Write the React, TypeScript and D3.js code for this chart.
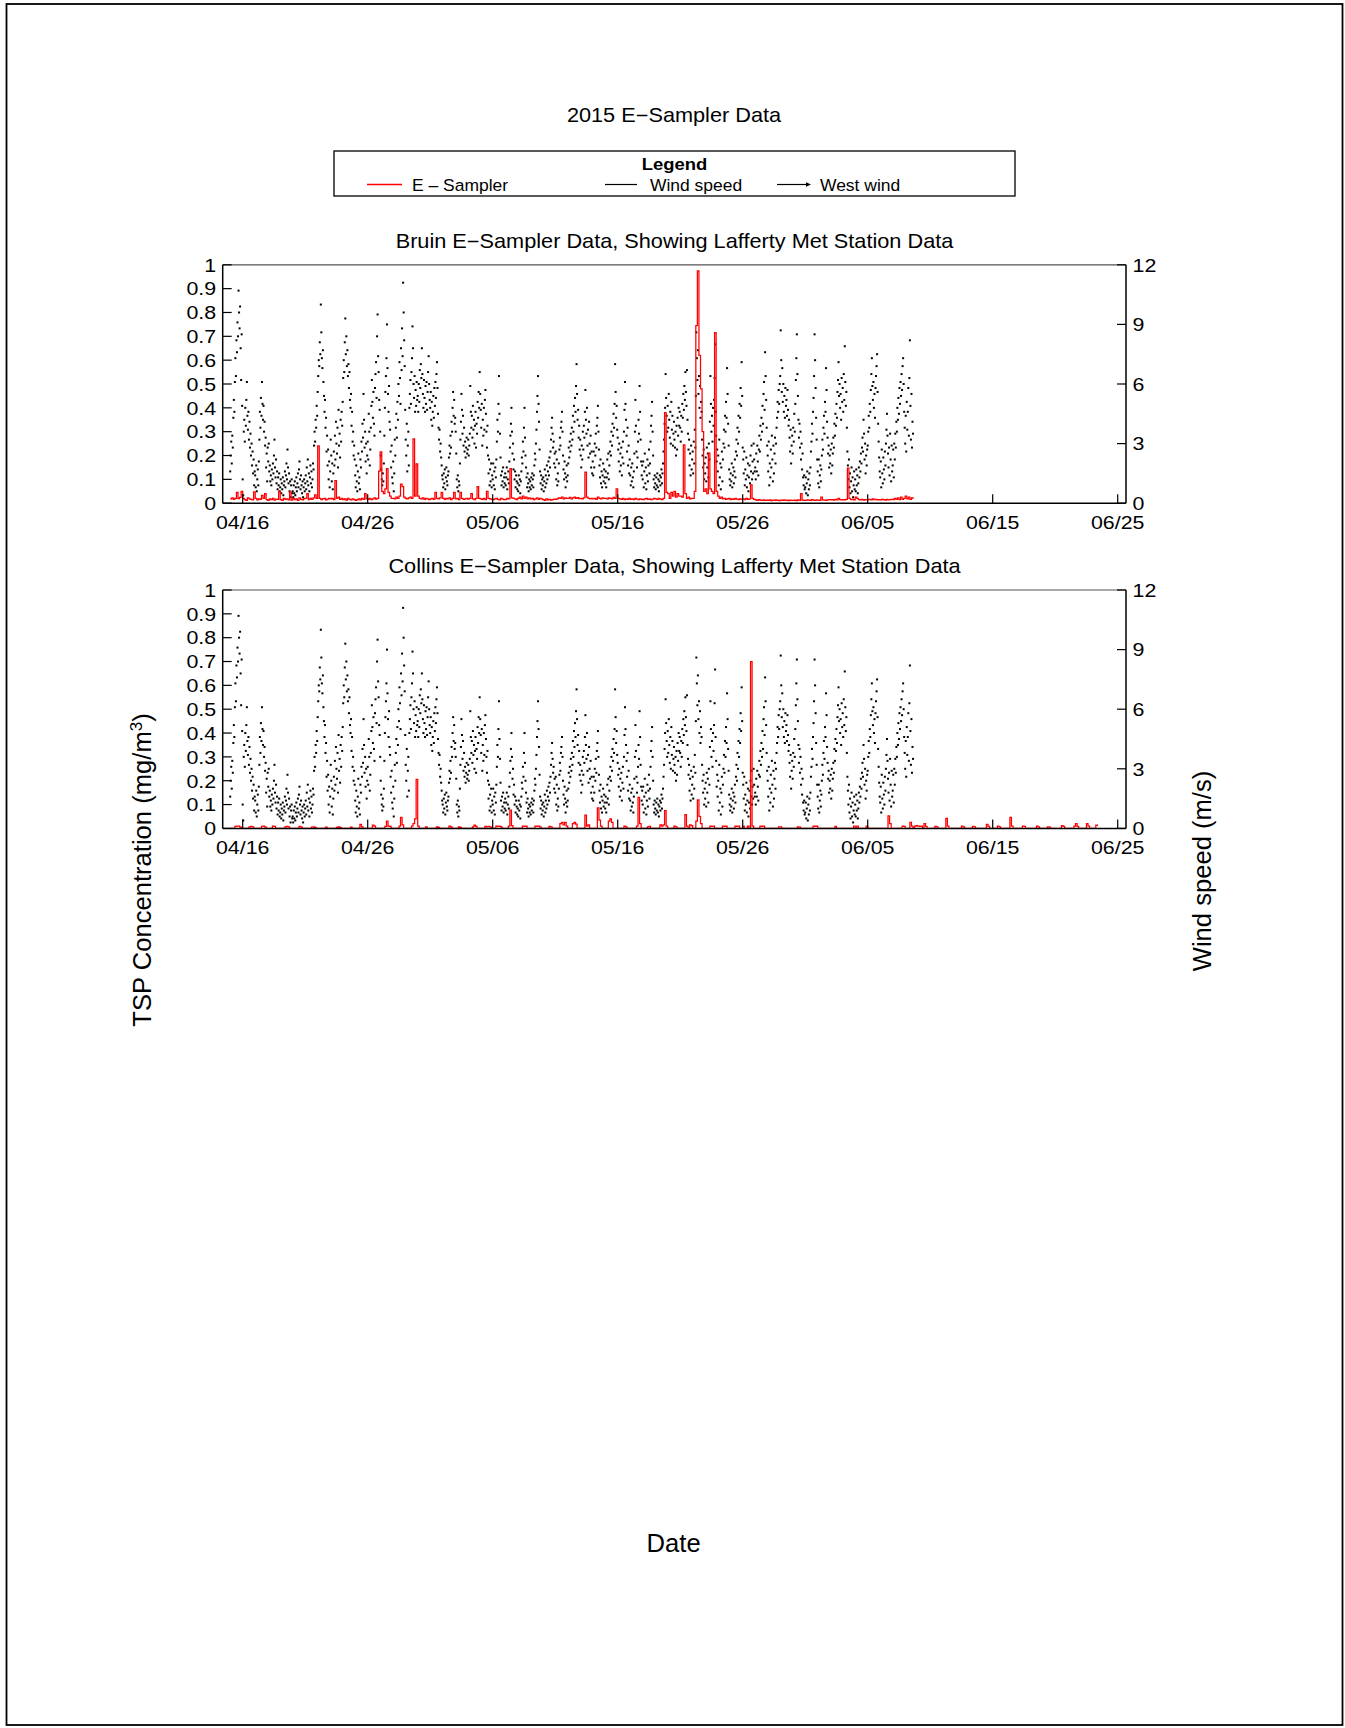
import React from "react";
import * as d3 from "d3";

const FONT = "'Liberation Sans', Arial, Helvetica, sans-serif";
const STRETCH = 1.12;
const HOUR = 3600 * 1000;

// Lafferty met station wind speed (m/s), hourly, one row per day from 04/15
const windStart = Date.UTC(2015, 3, 15);
const windSpeed: number[][] = [
  [1.6, 2.4, 3.1, 2.0, 3.4, 2.8, 4.3, 5.2, 4.6, 6.1, 7.3, 6.4, 8.2, 7.6, 9.1, 8.4, 10.7, 9.6, 8.8, 9.9, 7.8, 6.2, 8.5, 4.9],
  [1.2, 0.4, 3.6, 4.2, 3.1, 4.8, 3.9, 5.2, 6.1, 4.4, 3.7, 4.6, 3.2, 4.1, 2.8, 3.5, 2.4, 3.0, 1.9, 2.6, 1.5, 2.2, 0.9, 1.6],
  [1.4, 0.8, 1.9, 0.6, 1.2, 1.7, 0.9, 2.1, 3.2, 4.6, 3.8, 5.3, 4.4, 6.1, 5.0, 4.2, 4.9, 3.6, 4.1, 2.9, 3.3, 1.8, 2.5, 1.1],
  [2.8, 2.1, 3.0, 1.6, 1.9, 1.1, 1.4, 0.9, 1.7, 1.2, 2.0, 1.5, 2.4, 3.2, 1.8, 1.3, 2.2, 1.0, 1.6, 0.7, 1.3, 0.9, 1.5, 0.6],
  [0.8, 1.2, 0.5, 1.0, 0.7, 1.3, 0.4, 0.9, 1.1, 1.6, 0.8, 1.4, 2.0, 1.2, 2.7, 1.8, 1.0, 1.5, 0.6, 1.1, 0.3, 0.9, 1.2, 0.5],
  [0.6, 0.3, 0.9, 0.5, 1.1, 0.4, 0.8, 1.3, 0.6, 1.0, 1.5, 0.8, 1.7, 2.1, 1.2, 0.7, 1.4, 0.9, 0.5, 1.1, 0.3, 0.8, 1.2, 0.6],
  [1.0, 1.4, 0.7, 1.8, 1.1, 2.2, 0.9, 1.5, 0.6, 1.3, 1.9, 1.0, 1.6, 0.8, 1.2, 2.0, 1.7, 2.9, 3.6, 3.1, 4.2, 3.8, 4.9, 4.4],
  [5.6, 6.4, 7.2, 6.9, 8.1, 7.5, 10.0, 8.6, 7.3, 6.8, 7.7, 6.1, 5.4, 4.6, 5.2, 3.8, 4.3, 2.6, 3.4, 1.9, 2.7, 1.2, 2.1, 0.8],
  [1.6, 3.2, 2.4, 1.1, 2.0, 0.7, 1.5, 2.6, 1.9, 3.4, 2.2, 4.1, 3.0, 2.5, 3.8, 1.8, 4.7, 2.9, 3.5, 2.3, 4.2, 3.1, 4.6, 3.9],
  [5.1, 6.3, 7.2, 6.6, 8.1, 9.3, 7.5, 8.4, 6.9, 7.7, 6.4, 7.0, 5.8, 6.6, 5.2, 4.8, 5.5, 3.9, 4.6, 3.1, 3.6, 2.4, 2.9, 2.2],
  [1.4, 0.8, 1.9, 1.1, 0.6, 1.6, 2.5, 1.0, 1.3, 0.7, 2.2, 1.8, 3.1, 2.6, 4.0, 3.3, 5.5, 4.2, 2.8, 3.6, 2.1, 3.0, 1.5, 2.4],
  [3.1, 2.2, 4.5, 3.6, 1.9, 2.7, 3.8, 4.9, 6.2, 5.1, 4.3, 5.6, 4.0, 3.4, 5.8, 6.5, 7.1, 5.3, 8.4, 9.5, 7.4, 6.6, 5.2, 4.7],
  [3.6, 2.4, 1.7, 1.2, 0.9, 1.5, 1.1, 2.0, 3.4, 4.8, 5.6, 6.4, 7.3, 9.0, 6.8, 5.5, 4.6, 5.9, 4.1, 3.7, 2.6, 1.8, 2.9, 1.3],
  [1.0, 2.1, 0.6, 1.5, 3.2, 2.4, 3.8, 4.5, 3.3, 5.1, 4.2, 6.0, 5.4, 7.1, 6.3, 5.0, 7.8, 6.7, 8.8, 7.4, 11.1, 9.6, 8.2, 6.9],
  [4.7, 3.2, 2.4, 4.0, 1.6, 2.9, 3.6, 1.9, 4.8, 5.5, 6.2, 5.0, 6.6, 7.3, 8.9, 7.8, 6.0, 5.3, 6.4, 4.6, 5.7, 4.9, 6.1, 5.2],
  [5.4, 4.6, 6.0, 5.1, 6.7, 5.8, 7.0, 6.3, 7.8, 6.5, 5.5, 4.8, 6.2, 5.3, 4.6, 5.9, 5.0, 6.1, 4.7, 5.6, 6.6, 7.4, 6.0, 5.2],
  [4.8, 5.6, 4.2, 5.1, 3.9, 4.6, 5.4, 4.3, 5.8, 4.9, 6.1, 5.3, 6.5, 7.1, 5.8, 4.5, 3.8, 3.2, 3.7, 2.6, 3.0, 2.3, 1.9, 1.4],
  [1.2, 0.8, 1.5, 1.0, 1.7, 0.7, 1.3, 1.8, 1.1, 0.9, 1.4, 1.6, 2.3, 2.9, 2.5, 3.4, 2.8, 4.1, 3.6, 4.8, 5.6, 4.4, 5.2, 4.0],
  [4.3, 3.6, 2.5, 1.2, 0.8, 1.4, 0.6, 1.1, 0.9, 2.0, 3.2, 4.1, 5.5, 4.7, 3.5, 4.4, 2.9, 3.8, 2.6, 3.1, 2.3, 2.8, 3.3, 2.5],
  [2.7, 3.2, 2.4, 2.9, 3.5, 5.9, 4.6, 3.8, 4.4, 3.3, 4.9, 3.7, 4.2, 3.0, 3.9, 4.6, 2.8, 4.0, 3.5, 5.1, 4.3, 5.6, 4.8, 6.6],
  [5.5, 4.7, 3.8, 5.0, 2.9, 4.2, 3.4, 4.8, 3.7, 5.2, 5.7, 4.5, 3.6, 2.8, 3.9, 2.4, 1.5, 2.2, 0.9, 1.7, 1.1, 2.0, 0.8, 1.4],
  [1.2, 2.0, 0.9, 1.6, 0.7, 1.8, 1.3, 2.2, 3.1, 4.2, 3.6, 5.0, 6.4, 4.5, 3.5, 2.3, 1.4, 0.9, 1.6, 1.1, 1.8, 0.8, 1.3, 1.0],
  [1.5, 0.9, 1.3, 1.8, 0.7, 1.2, 1.6, 1.0, 2.1, 2.8, 3.4, 4.0, 4.8, 3.6, 2.5, 3.0, 1.7, 2.2, 1.2, 1.6, 0.8, 1.4, 1.1, 0.7],
  [1.0, 0.6, 1.4, 0.9, 1.2, 0.5, 1.1, 1.6, 2.3, 2.0, 3.1, 2.6, 3.8, 4.8, 3.3, 2.4, 1.8, 1.3, 0.8, 1.5, 1.0, 0.6, 1.2, 0.8],
  [1.1, 0.7, 1.3, 0.9, 1.5, 1.2, 0.8, 1.4, 1.9, 2.5, 2.2, 3.0, 3.7, 4.6, 5.4, 6.4, 5.0, 4.1, 2.7, 1.6, 1.0, 1.4, 0.7, 1.2],
  [0.9, 1.3, 0.6, 1.1, 1.7, 0.8, 1.4, 1.0, 1.9, 1.2, 1.6, 2.1, 1.4, 2.3, 1.8, 2.6, 3.2, 3.8, 4.3, 3.5, 2.8, 3.1, 2.0, 2.5],
  [1.8, 2.6, 1.2, 2.2, 0.9, 1.5, 1.1, 2.0, 2.7, 3.3, 2.9, 3.8, 4.1, 4.6, 3.6, 2.4, 1.7, 1.2, 2.1, 1.5, 0.8, 1.3, 1.9, 1.1],
  [1.4, 2.0, 2.8, 2.3, 3.1, 2.6, 3.5, 2.9, 3.8, 3.2, 4.4, 3.6, 4.9, 4.1, 5.3, 4.6, 5.9, 7.0, 5.5, 4.2, 4.7, 3.3, 3.9, 2.7],
  [3.2, 2.4, 1.8, 2.9, 2.2, 3.6, 2.7, 3.9, 3.3, 4.6, 5.7, 4.2, 3.5, 4.8, 2.9, 3.7, 2.3, 4.1, 3.0, 2.5, 3.4, 1.8, 2.6, 1.5],
  [2.1, 1.4, 2.6, 1.8, 3.0, 2.4, 3.5, 2.8, 3.9, 4.3, 4.9, 3.6, 2.7, 1.9, 1.3, 2.2, 1.0, 1.6, 0.8, 1.4, 2.0, 1.1, 1.7, 1.3],
  [1.0, 1.6, 0.8, 1.3, 2.2, 1.5, 2.5, 1.2, 1.9, 2.6, 3.1, 2.4, 3.6, 2.9, 4.0, 3.4, 4.5, 3.8, 5.0, 7.0, 5.6, 4.3, 4.9, 3.7],
  [3.3, 2.7, 2.1, 3.0, 1.6, 2.5, 1.9, 2.8, 1.4, 2.3, 3.1, 2.0, 3.6, 4.7, 6.1, 5.0, 4.2, 3.4, 2.6, 3.8, 1.9, 2.9, 1.5, 2.2],
  [1.4, 0.9, 1.8, 1.1, 2.0, 1.3, 0.8, 1.6, 2.5, 3.6, 5.2, 3.9, 2.6, 1.8, 2.3, 3.1, 4.2, 3.5, 5.9, 4.6, 3.2, 2.1, 1.4, 1.9],
  [1.2, 2.1, 0.8, 1.6, 2.5, 1.0, 1.8, 0.7, 1.4, 2.2, 1.1, 1.9, 2.7, 1.5, 2.0, 3.1, 3.9, 4.4, 5.1, 3.6, 2.4, 1.2, 0.8, 1.4],
  [1.0, 0.7, 1.3, 0.9, 1.5, 0.8, 1.2, 0.6, 1.1, 1.4, 0.9, 1.3, 1.7, 1.0, 1.5, 2.0, 2.6, 3.2, 4.0, 4.8, 6.5, 5.3, 4.4, 3.6],
  [4.9, 3.8, 5.5, 4.2, 3.3, 4.6, 3.0, 5.1, 3.7, 4.4, 2.9, 3.5, 4.1, 3.2, 2.8, 3.6, 2.4, 3.9, 2.7, 4.3, 3.4, 4.8, 3.9, 4.6],
  [3.8, 3.1, 4.4, 3.6, 5.0, 4.3, 5.5, 4.7, 5.9, 5.2, 6.6, 5.6, 4.9, 6.7, 4.2, 3.5, 2.7, 3.2, 1.9, 2.5, 1.4, 2.9, 1.7, 2.2],
  [2.6, 1.5, 3.1, 2.0, 3.7, 2.8, 5.4, 8.6, 7.3, 6.2, 7.7, 5.5, 6.4, 4.8, 5.9, 4.3, 5.1, 4.6, 3.2, 2.4, 1.8, 2.7, 1.2, 2.0],
  [1.5, 2.3, 1.1, 2.8, 1.8, 2.5, 1.3, 3.0, 2.2, 4.1, 6.4, 5.0, 3.6, 4.4, 3.1, 4.8, 3.9, 5.2, 6.3, 8.0, 4.6, 3.4, 2.1, 2.7],
  [1.6, 2.4, 0.9, 3.2, 1.3, 2.0, 0.7, 1.8, 2.6, 1.1, 2.2, 3.0, 3.7, 2.8, 4.4, 3.6, 5.1, 4.3, 6.8, 5.5, 4.0, 2.9, 1.7, 1.2],
  [0.9, 1.5, 1.1, 2.0, 0.8, 1.4, 1.8, 1.0, 1.6, 2.2, 1.3, 2.6, 3.2, 2.4, 3.8, 3.0, 4.4, 3.6, 5.0, 4.3, 5.8, 4.9, 7.1, 5.4],
  [2.8, 2.2, 1.5, 2.6, 0.9, 1.7, 1.2, 2.3, 0.8, 1.4, 2.0, 0.6, 1.3, 1.9, 1.0, 2.4, 1.6, 2.9, 1.2, 2.1, 1.5, 3.0, 2.2, 1.6],
  [1.8, 1.2, 2.5, 1.6, 2.9, 2.1, 1.4, 2.7, 3.4, 2.6, 3.9, 3.2, 4.3, 3.6, 4.9, 4.0, 5.5, 6.1, 4.7, 7.6, 6.4, 5.2, 3.8, 2.9],
  [2.4, 1.6, 3.1, 0.9, 2.0, 1.3, 2.7, 1.8, 3.4, 2.2, 1.1, 2.9, 1.5, 2.5, 3.3, 2.0, 3.0, 3.8, 4.3, 5.1, 4.6, 5.7, 5.0, 6.0],
  [6.4, 8.7, 7.2, 5.6, 6.8, 5.1, 6.0, 4.6, 5.4, 4.3, 5.8, 4.9, 5.2, 4.4, 5.7, 4.7, 3.9, 4.2, 3.3, 2.6, 3.7, 2.0, 2.9, 3.4],
  [2.5, 3.8, 3.1, 4.5, 3.6, 5.0, 6.2, 7.3, 8.5, 6.5, 5.4, 4.2, 3.3, 4.0, 2.8, 3.6, 2.2, 3.0, 1.7, 2.5, 1.3, 0.9, 1.4, 0.7],
  [0.8, 1.3, 0.5, 1.0, 1.6, 0.4, 1.2, 0.7, 1.5, 0.9, 1.8, 2.6, 3.1, 4.0, 3.5, 4.6, 5.3, 6.4, 8.5, 7.2, 5.8, 4.3, 3.2, 2.2],
  [1.6, 1.0, 2.2, 0.8, 1.4, 1.9, 1.1, 1.7, 2.4, 3.2, 2.7, 3.8, 4.4, 3.5, 5.1, 4.6, 6.8, 5.7, 4.1, 3.3, 2.5, 2.9, 1.8, 2.4],
  [2.0, 2.7, 1.5, 3.0, 1.9, 2.5, 3.3, 2.8, 4.0, 3.4, 4.5, 3.9, 5.0, 4.3, 5.6, 6.2, 7.1, 5.4, 6.0, 4.8, 5.5, 4.2, 6.3, 5.1],
  [5.8, 4.6, 6.5, 5.2, 7.9, 6.1, 4.9, 5.6, 3.8, 2.6, 1.9, 1.2, 2.2, 0.8, 1.5, 0.5, 1.1, 1.8, 0.6, 1.3, 0.3, 0.9, 1.6, 0.7],
  [1.2, 0.6, 1.7, 0.9, 1.4, 0.5, 1.0, 1.8, 1.3, 2.1, 1.6, 2.5, 2.0, 2.8, 3.3, 2.6, 4.2, 3.5, 2.2, 3.0, 1.5, 2.4, 1.9, 2.7],
  [2.9, 3.6, 4.4, 3.8, 5.0, 4.6, 5.7, 6.5, 7.3, 5.9, 5.2, 6.1, 4.8, 5.5, 4.3, 5.8, 6.4, 6.9, 7.5, 5.6, 4.0, 3.1, 2.3, 1.6],
  [1.3, 2.1, 0.8, 2.7, 1.5, 1.0, 2.3, 1.7, 1.2, 2.6, 1.9, 3.0, 3.7, 4.5, 3.4, 2.5, 1.8, 2.8, 1.4, 3.5, 2.2, 1.1, 2.9, 1.6],
  [1.9, 2.7, 1.3, 3.0, 2.2, 3.5, 2.8, 4.1, 3.6, 4.8, 4.2, 5.3, 4.5, 5.8, 5.0, 6.1, 5.4, 6.5, 5.7, 6.9, 7.3, 6.0, 4.6, 3.8],
  [3.0, 4.4, 2.6, 5.1, 3.7, 4.6, 5.8, 3.4, 6.3, 8.2, 4.9, 3.2, 5.5, 2.8, 4.1, 3.5],
];

// E-Sampler TSP concentration (mg/m3), 3-hourly, one row per day from 04/15
const tspStart = Date.UTC(2015, 3, 15);
const tspStepHours = 3;
const bruinTsp: number[][] = [
  [0.018, 0.022, 0.016, 0.02, 0.045, 0.019, 0.024, 0.05],
  [0.02, 0.015, 0.012, 0.022, 0.018, 0.016, 0.014, 0.047],
  [0.02, 0.014, 0.018, 0.016, 0.033, 0.02, 0.04, 0.015],
  [0.012, 0.018, 0.015, 0.02, 0.013, 0.017, 0.016, 0.05],
  [0.015, 0.012, 0.02, 0.016, 0.018, 0.014, 0.047, 0.013],
  [0.02, 0.015, 0.018, 0.012, 0.022, 0.016, 0.014, 0.019],
  [0.02, 0.04, 0.015, 0.02, 0.016, 0.022, 0.035, 0.02],
  [0.24, 0.02, 0.015, 0.018, 0.02, 0.014, 0.017, 0.02],
  [0.018, 0.02, 0.015, 0.095, 0.02, 0.025, 0.016, 0.02],
  [0.015, 0.018, 0.013, 0.02, 0.016, 0.014, 0.018, 0.015],
  [0.012, 0.015, 0.018, 0.014, 0.02, 0.016, 0.04, 0.018],
  [0.016, 0.02, 0.015, 0.018, 0.022, 0.017, 0.02, 0.135],
  [0.215, 0.05, 0.04, 0.06, 0.145, 0.045, 0.03, 0.02],
  [0.02, 0.018, 0.025, 0.02, 0.03, 0.08, 0.07, 0.025],
  [0.02, 0.018, 0.022, 0.025, 0.02, 0.27, 0.03, 0.165],
  [0.03, 0.02, 0.018, 0.022, 0.016, 0.02, 0.018, 0.015],
  [0.018, 0.02, 0.016, 0.045, 0.02, 0.018, 0.022, 0.045],
  [0.02, 0.016, 0.02, 0.018, 0.022, 0.015, 0.02, 0.045],
  [0.018, 0.02, 0.015, 0.045, 0.02, 0.016, 0.018, 0.02],
  [0.017, 0.02, 0.04, 0.018, 0.015, 0.02, 0.07, 0.02],
  [0.018, 0.016, 0.02, 0.015, 0.05, 0.02, 0.018, 0.016],
  [0.015, 0.018, 0.02, 0.016, 0.014, 0.02, 0.017, 0.015],
  [0.016, 0.02, 0.018, 0.145, 0.022, 0.02, 0.018, 0.015],
  [0.02, 0.025, 0.018, 0.03, 0.02, 0.026, 0.018, 0.022],
  [0.018, 0.02, 0.015, 0.018, 0.022, 0.016, 0.02, 0.018],
  [0.015, 0.012, 0.018, 0.014, 0.016, 0.013, 0.015, 0.017],
  [0.016, 0.018, 0.022, 0.02, 0.025, 0.018, 0.022, 0.02],
  [0.02, 0.024, 0.018, 0.022, 0.025, 0.02, 0.023, 0.019],
  [0.02, 0.018, 0.022, 0.13, 0.025, 0.02, 0.018, 0.02],
  [0.018, 0.02, 0.016, 0.025, 0.02, 0.018, 0.022, 0.02],
  [0.02, 0.018, 0.022, 0.02, 0.018, 0.024, 0.02, 0.06],
  [0.02, 0.018, 0.016, 0.02, 0.015, 0.018, 0.016, 0.02],
  [0.016, 0.018, 0.015, 0.02, 0.017, 0.015, 0.018, 0.016],
  [0.015, 0.018, 0.02, 0.016, 0.018, 0.015, 0.017, 0.02],
  [0.018, 0.016, 0.02, 0.017, 0.015, 0.02, 0.38, 0.045],
  [0.04, 0.02, 0.045, 0.03, 0.05, 0.025, 0.04, 0.03],
  [0.03, 0.025, 0.245, 0.04, 0.02, 0.025, 0.018, 0.02],
  [0.02, 0.05, 0.745, 0.975, 0.62, 0.48, 0.3, 0.05],
  [0.06, 0.04, 0.21, 0.06, 0.05, 0.04, 0.715, 0.05],
  [0.03, 0.02, 0.025, 0.018, 0.02, 0.016, 0.018, 0.02],
  [0.015, 0.018, 0.016, 0.02, 0.017, 0.015, 0.018, 0.016],
  [0.018, 0.015, 0.02, 0.016, 0.018, 0.077, 0.02, 0.016],
  [0.014, 0.012, 0.015, 0.013, 0.012, 0.014, 0.012, 0.013],
  [0.012, 0.014, 0.011, 0.013, 0.012, 0.014, 0.012, 0.011],
  [0.013, 0.012, 0.014, 0.012, 0.013, 0.011, 0.013, 0.012],
  [0.012, 0.013, 0.011, 0.014, 0.012, 0.04, 0.013, 0.012],
  [0.012, 0.014, 0.013, 0.012, 0.015, 0.013, 0.012, 0.014],
  [0.013, 0.012, 0.025, 0.014, 0.013, 0.012, 0.014, 0.015],
  [0.014, 0.015, 0.013, 0.016, 0.014, 0.02, 0.015, 0.014],
  [0.015, 0.014, 0.016, 0.147, 0.02, 0.015, 0.016, 0.014],
  [0.025, 0.02, 0.015, 0.014, 0.016, 0.013, 0.015, 0.014],
  [0.015, 0.016, 0.014, 0.018, 0.015, 0.016, 0.014, 0.015],
  [0.014, 0.016, 0.015, 0.013, 0.016, 0.014, 0.015, 0.016],
  [0.015, 0.02, 0.016, 0.022, 0.015, 0.025, 0.016, 0.02],
  [0.03, 0.018, 0.025, 0.016, 0.022, 0.018],
];
const collinsTsp: number[][] = [
  [0, 0, 0, 0.008, 0.01, 0.01, 0.006, 0],
  [0, 0, 0, 0, 0.006, 0.008, 0.006, 0],
  [0, 0, 0, 0, 0.008, 0.01, 0.006, 0],
  [0, 0, 0, 0.01, 0.008, 0, 0, 0],
  [0, 0, 0, 0.006, 0.008, 0.006, 0, 0],
  [0, 0, 0, 0, 0.008, 0.006, 0, 0],
  [0, 0, 0, 0, 0.005, 0.006, 0.004, 0],
  [0, 0, 0, 0, 0, 0.005, 0, 0],
  [0, 0, 0, 0, 0.004, 0.006, 0.004, 0],
  [0, 0, 0, 0, 0, 0.005, 0, 0],
  [0, 0, 0, 0.017, 0.006, 0, 0, 0],
  [0, 0, 0, 0.014, 0.01, 0, 0, 0],
  [0, 0, 0, 0.008, 0.03, 0.01, 0.008, 0],
  [0, 0, 0, 0, 0.01, 0.046, 0.015, 0],
  [0, 0, 0, 0, 0.01, 0.02, 0.04, 0.206],
  [0.01, 0, 0, 0, 0, 0.006, 0, 0],
  [0, 0, 0, 0, 0.006, 0.004, 0, 0],
  [0, 0, 0, 0, 0.01, 0.006, 0, 0],
  [0, 0, 0.006, 0.004, 0, 0, 0, 0],
  [0, 0, 0, 0.006, 0.014, 0.008, 0, 0],
  [0, 0, 0, 0.008, 0.006, 0.008, 0.006, 0],
  [0, 0, 0.01, 0.008, 0.01, 0.006, 0, 0],
  [0, 0, 0.01, 0.077, 0.012, 0, 0, 0],
  [0, 0, 0, 0.01, 0.008, 0.01, 0, 0],
  [0, 0, 0, 0.01, 0.008, 0.01, 0.006, 0],
  [0, 0, 0, 0, 0.008, 0.006, 0, 0],
  [0, 0, 0, 0.02, 0.025, 0.015, 0.025, 0.01],
  [0, 0, 0, 0.02, 0.025, 0.018, 0, 0],
  [0, 0, 0, 0.056, 0.01, 0.015, 0, 0],
  [0, 0, 0, 0.086, 0.035, 0.01, 0, 0],
  [0, 0, 0.03, 0.04, 0.025, 0, 0, 0],
  [0, 0, 0, 0, 0.01, 0.006, 0, 0],
  [0, 0, 0, 0, 0.01, 0.13, 0.02, 0],
  [0, 0, 0, 0.006, 0.008, 0, 0, 0],
  [0, 0, 0, 0.015, 0.01, 0.015, 0.075, 0.01],
  [0, 0, 0, 0, 0.01, 0.006, 0, 0],
  [0, 0, 0, 0.058, 0.01, 0, 0.015, 0.012],
  [0, 0, 0.03, 0.12, 0.05, 0.02, 0, 0],
  [0, 0, 0, 0.01, 0.008, 0.01, 0, 0],
  [0, 0, 0, 0.01, 0.008, 0.01, 0, 0],
  [0, 0, 0, 0.01, 0.008, 0.01, 0, 0],
  [0.01, 0, 0, 0.01, 0, 0.7, 0.01, 0],
  [0, 0, 0, 0.01, 0.008, 0.01, 0, 0],
  [0, 0, 0, 0, 0, 0, 0, 0.006],
  [0.006, 0, 0, 0, 0, 0, 0, 0],
  [0, 0, 0, 0.006, 0.005, 0, 0, 0],
  [0, 0, 0, 0, 0, 0.01, 0.008, 0.01],
  [0, 0, 0, 0, 0, 0, 0, 0],
  [0, 0, 0, 0.008, 0, 0, 0, 0],
  [0, 0, 0, 0, 0, 0, 0, 0.01],
  [0, 0.01, 0, 0, 0, 0, 0, 0.01],
  [0, 0, 0, 0, 0, 0, 0, 0],
  [0, 0, 0, 0, 0, 0.053, 0.02, 0],
  [0, 0, 0, 0, 0, 0, 0.01, 0.008],
  [0, 0, 0, 0.025, 0.01, 0, 0.01, 0.012],
  [0.01, 0.008, 0.01, 0, 0.02, 0.008, 0, 0],
  [0, 0, 0, 0.008, 0.006, 0, 0, 0],
  [0, 0, 0.042, 0.01, 0, 0, 0, 0],
  [0, 0, 0, 0, 0.01, 0.006, 0, 0],
  [0, 0, 0, 0.008, 0.006, 0, 0, 0],
  [0, 0, 0, 0, 0.017, 0.008, 0, 0],
  [0, 0, 0, 0.01, 0.006, 0, 0, 0],
  [0, 0, 0, 0.046, 0.01, 0, 0, 0],
  [0, 0, 0, 0.01, 0.008, 0, 0, 0],
  [0, 0, 0, 0, 0.01, 0.006, 0, 0],
  [0, 0, 0, 0.006, 0.005, 0, 0, 0],
  [0, 0, 0, 0, 0.012, 0.008, 0, 0],
  [0, 0, 0, 0, 0.01, 0.02, 0.008, 0],
  [0, 0, 0, 0, 0.02, 0.01, 0, 0],
  [0, 0, 0.014, 0.01],
];

const dateTicks = ["2015-04-16", "2015-04-26", "2015-05-06", "2015-05-16", "2015-05-26", "2015-06-05", "2015-06-15", "2015-06-25"];
const tspTicks = [0, 0.1, 0.2, 0.3, 0.4, 0.5, 0.6, 0.7, 0.8, 0.9, 1];
const windTicks = [0, 3, 6, 9, 12];
const xDomain = [Date.UTC(2015, 3, 14, 9, 36), Date.UTC(2015, 5, 25, 15, 56)];

const panels = [
  { title: "Bruin E\u2212Sampler Data, Showing Lafferty Met Station Data", tsp: bruinTsp, top: 264.8 },
  { title: "Collins E\u2212Sampler Data, Showing Lafferty Met Station Data", tsp: collinsTsp, top: 590 },
];

const PLOT_LEFT = 222.7;
const PLOT_RIGHT = 1126;
const PLOT_H = 238.4;
const TICK = 9;

const fmt = d3.utcFormat("%m/%d");

function SText(props: { x: number; y: number; size: number; anchor?: string; weight?: string; fill?: string; children: React.ReactNode }) {
  const { x, y, size, anchor = "middle", weight = "normal", fill = "#000", children } = props;
  return (
    <text
      transform={`translate(${x},${y}) scale(${STRETCH},1)`}
      fontSize={size}
      textAnchor={anchor}
      fontWeight={weight}
      fontFamily={FONT}
      fill={fill}
    >
      {children}
    </text>
  );
}

const windPoints = windSpeed.flatMap((row, day) =>
  row.map((v, h) => ({ t: windStart + (day * 24 + h) * HOUR, v }))
);

function Panel({ title, tsp, top }: { title: string; tsp: number[][]; top: number }) {
  const x = d3.scaleUtc().domain(xDomain).range([PLOT_LEFT, PLOT_RIGHT]);
  const yTsp = d3.scaleLinear().domain([0, 1]).range([top + PLOT_H, top]);
  const yWind = d3.scaleLinear().domain([0, 12]).range([top + PLOT_H, top]);
  const bottom = top + PLOT_H;

  const tspPoints: [number, number][] = tsp.flatMap((row, day) =>
    row.map((v, i) => [tspStart + (day * 24 + i * tspStepHours) * HOUR, v] as [number, number])
  );
  const line = d3
    .line<[number, number]>()
    .curve(d3.curveStepAfter)
    .x((d) => x(d[0]))
    .y((d) => yTsp(d[1]));

  const ticks = dateTicks.map((s) => new Date(s + "T00:00:00Z"));

  return (
    <g>
      <SText x={674.5} y={top - 16.8} size={19.4}>
        {title}
      </SText>
      <g>
        {windPoints.map((p, i) => (
          <rect key={i} x={x(p.t) - 1} y={yWind(p.v) - 1} width={2} height={2} fill="#000" />
        ))}
      </g>
      <path d={line(tspPoints) || ""} fill="none" stroke="#ff0000" strokeWidth={1.25} strokeLinejoin="miter" />
      {/* frame */}
      <line x1={PLOT_LEFT} x2={PLOT_RIGHT} y1={top} y2={top} stroke="#555" strokeWidth={1.2} />
      <line x1={PLOT_LEFT} x2={PLOT_RIGHT} y1={bottom} y2={bottom} stroke="#000" strokeWidth={1.5} />
      <line x1={PLOT_LEFT} x2={PLOT_LEFT} y1={top} y2={bottom} stroke="#000" strokeWidth={1.5} />
      <line x1={PLOT_RIGHT} x2={PLOT_RIGHT} y1={top} y2={bottom} stroke="#000" strokeWidth={1.5} />
      {tspTicks.map((v) => (
        <g key={"l" + v}>
          <line x1={PLOT_LEFT} x2={PLOT_LEFT + TICK} y1={yTsp(v)} y2={yTsp(v)} stroke="#000" strokeWidth={1.2} />
          <SText x={PLOT_LEFT - 6.5} y={yTsp(v) + 6.8} size={19.1} anchor="end">
            {String(v)}
          </SText>
        </g>
      ))}
      {windTicks.map((v) => (
        <g key={"r" + v}>
          <line x1={PLOT_RIGHT - TICK} x2={PLOT_RIGHT} y1={yWind(v)} y2={yWind(v)} stroke="#000" strokeWidth={1.2} />
          <SText x={PLOT_RIGHT + 6.5} y={yWind(v) + 6.8} size={19.1} anchor="start">
            {String(v)}
          </SText>
        </g>
      ))}
      {ticks.map((t, i) => (
        <g key={"x" + i}>
          <line x1={x(t)} x2={x(t)} y1={bottom} y2={bottom - TICK} stroke="#000" strokeWidth={1.2} />
          <SText x={x(t)} y={bottom + 25.5} size={19.1}>
            {fmt(t)}
          </SText>
        </g>
      ))}
    </g>
  );
}

export default function App() {
  return (
    <div style={{ position: "absolute", left: 0, top: 0 }}>
      <svg width={1345} height={1728} viewBox="0 0 1345 1728" style={{ display: "block", background: "#fff" }}>
        <rect x={0} y={0} width={1345} height={1728} fill="#fff" />
        <rect x={6.5} y={4} width={1336} height={1721} fill="none" stroke="#000" strokeWidth={1.8} />

        <SText x={674} y={121.5} size={19.4}>
          2015 E{"\u2212"}Sampler Data
        </SText>

        {/* legend */}
        <rect x={334} y={151} width={681} height={45} fill="#fff" stroke="#000" strokeWidth={1.3} />
        <SText x={674.5} y={170} size={16.5} weight="bold">
          Legend
        </SText>
        <line x1={367} x2={402} y1={184.5} y2={184.5} stroke="#ff0000" strokeWidth={1.3} />
        <SText x={412} y={190.5} size={15.6} anchor="start">
          E {"\u2013"} Sampler
        </SText>
        <line x1={605} x2={637} y1={184.5} y2={184.5} stroke="#000" strokeWidth={1.2} />
        <SText x={650} y={190.5} size={15.6} anchor="start">
          Wind speed
        </SText>
        <line x1={777} x2={808} y1={184.5} y2={184.5} stroke="#000" strokeWidth={1.2} />
        <path d="M806,182.3 L811,184.5 L806,186.7 Z" fill="#000" />
        <SText x={820} y={190.5} size={15.6} anchor="start">
          West wind
        </SText>

        {panels.map((p) => (
          <Panel key={p.title} title={p.title} tsp={p.tsp} top={p.top} />
        ))}

        <text
          transform="translate(151,870) rotate(-90)"
          fontSize={25.6}
          textAnchor="middle"
          fontFamily={FONT}
          fill="#000"
        >
          TSP Concentration (mg/m
          <tspan dy={-9} fontSize={17}>
            3
          </tspan>
          <tspan dy={9}>)</tspan>
        </text>
        <text
          transform="translate(1211,871) rotate(-90)"
          fontSize={25.6}
          textAnchor="middle"
          fontFamily={FONT}
          fill="#000"
        >
          Wind speed (m/s)
        </text>
        <text x={673.6} y={1552} fontSize={25.6} textAnchor="middle" fontFamily={FONT} fill="#000">
          Date
        </text>
      </svg>
    </div>
  );
}
